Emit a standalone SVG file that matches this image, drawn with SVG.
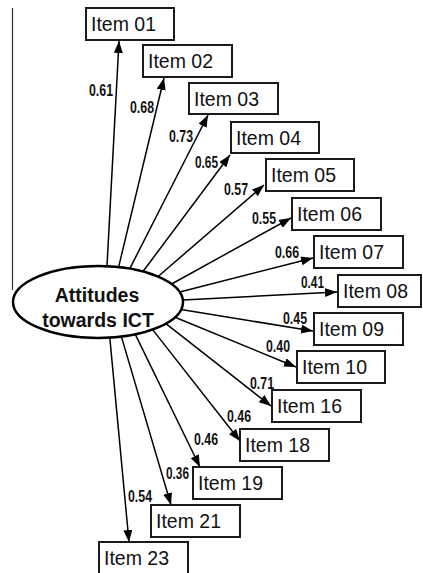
<svg xmlns="http://www.w3.org/2000/svg" width="423" height="573" viewBox="0 0 423 573">
<style>
.box{fill:#fff;stroke:#1a1a1a;stroke-width:2}
.it{font-family:"Liberation Sans",Arial,sans-serif;font-size:19.5px;fill:#111}
.ln{stroke:#000;stroke-width:1.5;fill:none;marker-end:url(#ah)}
.lb{font-family:"Liberation Sans",Arial,sans-serif;font-size:16px;font-weight:bold;fill:#111}
.ct{font-family:"Liberation Sans",Arial,sans-serif;font-size:19.5px;font-weight:bold;fill:#111;text-anchor:middle}
</style>
<defs>
<marker id="ah" markerUnits="userSpaceOnUse" markerWidth="13" markerHeight="10" refX="12" refY="4.5" orient="auto">
<path d="M0,0 L12,4.5 L0,9 z" fill="#000"/>
</marker>
</defs>
<rect width="423" height="573" fill="#fff"/>
<line x1="12.5" y1="8" x2="12.5" y2="290" stroke="#333" stroke-width="1.2"/>
<g id="connectors">
<line class="ln" x1="107" y1="266" x2="119" y2="41"/>
<line class="ln" x1="118.6" y1="267.1" x2="164" y2="78"/>
<line class="ln" x1="129.8" y1="268.6" x2="208" y2="115"/>
<line class="ln" x1="143" y1="271.5" x2="230" y2="155"/>
<line class="ln" x1="158.1" y1="276.5" x2="264" y2="185"/>
<line class="ln" x1="171.6" y1="284" x2="291" y2="218"/>
<line class="ln" x1="179.7" y1="292.1" x2="313" y2="258"/>
<line class="ln" x1="182.9" y1="300.1" x2="337" y2="292"/>
<line class="ln" x1="181.1" y1="309.5" x2="313" y2="331"/>
<line class="ln" x1="175" y1="317.2" x2="296" y2="367"/>
<line class="ln" x1="165.9" y1="323.7" x2="271" y2="406"/>
<line class="ln" x1="152.6" y1="329.6" x2="240" y2="441"/>
<line class="ln" x1="135.3" y1="334.4" x2="200" y2="467"/>
<line class="ln" x1="121.4" y1="336.6" x2="171" y2="505"/>
<line class="ln" x1="109.8" y1="337.6" x2="129" y2="542"/>
<text class="lb" x="89" y="96" textLength="24" lengthAdjust="spacingAndGlyphs">0.61</text>
<text class="lb" x="130" y="113" textLength="24" lengthAdjust="spacingAndGlyphs">0.68</text>
<text class="lb" x="169" y="142" textLength="24" lengthAdjust="spacingAndGlyphs">0.73</text>
<text class="lb" x="195" y="168" textLength="23" lengthAdjust="spacingAndGlyphs">0.65</text>
<text class="lb" x="224" y="195" textLength="24" lengthAdjust="spacingAndGlyphs">0.57</text>
<text class="lb" x="252" y="224" textLength="24" lengthAdjust="spacingAndGlyphs">0.55</text>
<text class="lb" x="275" y="258" textLength="24" lengthAdjust="spacingAndGlyphs">0.66</text>
<text class="lb" x="301" y="288" textLength="23" lengthAdjust="spacingAndGlyphs">0.41</text>
<text class="lb" x="283" y="324" textLength="24" lengthAdjust="spacingAndGlyphs">0.45</text>
<text class="lb" x="266" y="352" textLength="24" lengthAdjust="spacingAndGlyphs">0.40</text>
<text class="lb" x="250" y="389" textLength="24" lengthAdjust="spacingAndGlyphs">0.71</text>
<text class="lb" x="227" y="422" textLength="24" lengthAdjust="spacingAndGlyphs">0.46</text>
<text class="lb" x="194" y="445" textLength="24" lengthAdjust="spacingAndGlyphs">0.46</text>
<text class="lb" x="166" y="479" textLength="23" lengthAdjust="spacingAndGlyphs">0.36</text>
<text class="lb" x="128" y="502" textLength="24" lengthAdjust="spacingAndGlyphs">0.54</text>
</g>
<g id="attitudes">
<ellipse cx="98" cy="302" rx="85" ry="36" fill="#fff" stroke="#000" stroke-width="2.5"/>
<text class="ct" x="97" y="302">Attitudes</text>
<text class="ct" x="98" y="327">towards ICT</text>
</g>
<g id="item01"><rect class="box" x="86" y="8" width="88" height="32"/><text class="it" x="91" y="31">Item 01</text></g>
<g id="item02"><rect class="box" x="143" y="45" width="89" height="32"/><text class="it" x="148" y="68">Item 02</text></g>
<g id="item03"><rect class="box" x="189" y="83" width="89" height="31"/><text class="it" x="194" y="106">Item 03</text></g>
<g id="item04"><rect class="box" x="231" y="122" width="88" height="31"/><text class="it" x="236" y="145">Item 04</text></g>
<g id="item05"><rect class="box" x="266" y="159" width="88" height="32"/><text class="it" x="271" y="182">Item 05</text></g>
<g id="item06"><rect class="box" x="292" y="198" width="89" height="32"/><text class="it" x="297" y="221">Item 06</text></g>
<g id="item07"><rect class="box" x="314" y="236" width="89" height="32"/><text class="it" x="319" y="259">Item 07</text></g>
<g id="item08"><rect class="box" x="338" y="275" width="83" height="32"/><text class="it" x="343" y="298">Item 08</text></g>
<g id="item09"><rect class="box" x="314" y="313" width="89" height="32"/><text class="it" x="319" y="336">Item 09</text></g>
<g id="item10"><rect class="box" x="297" y="351" width="88" height="32"/><text class="it" x="302" y="374">Item 10</text></g>
<g id="item16"><rect class="box" x="272" y="390" width="89" height="32"/><text class="it" x="277" y="413">Item 16</text></g>
<g id="item18"><rect class="box" x="240" y="429" width="89" height="32"/><text class="it" x="245" y="452">Item 18</text></g>
<g id="item19"><rect class="box" x="193" y="467" width="89" height="32"/><text class="it" x="198" y="490">Item 19</text></g>
<g id="item21"><rect class="box" x="151" y="505" width="89" height="32"/><text class="it" x="156" y="528">Item 21</text></g>
<g id="item23"><rect class="box" x="99" y="542" width="89" height="34"/><text class="it" x="104" y="565">Item 23</text></g>
</svg>
